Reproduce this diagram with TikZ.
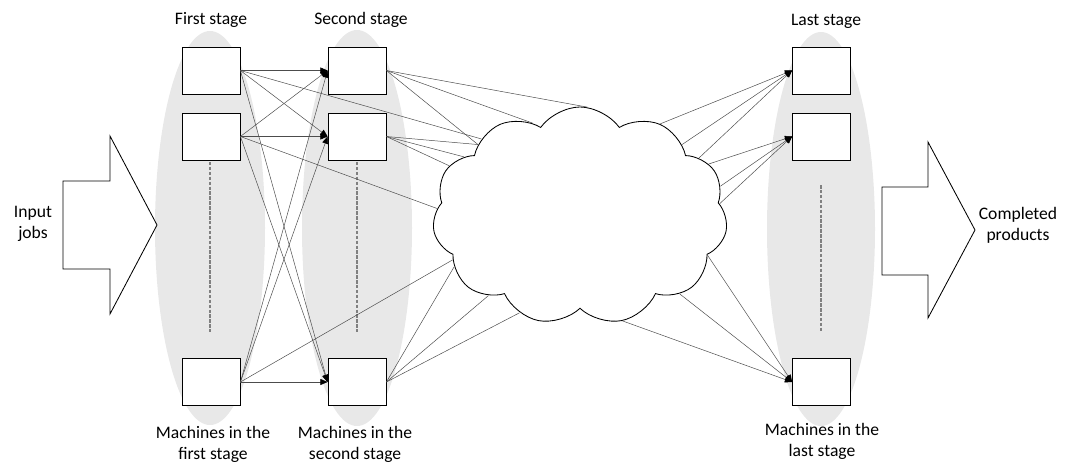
\documentclass[tikz,border=0pt]{standalone}
\usepackage{fontspec}
\setmainfont{Carlito}
\usetikzlibrary{arrows.meta,shapes.symbols}

\begin{document}
\begin{tikzpicture}[
    x=0.25mm, y=-0.25mm,
    stage/.style={fill=gray!18, draw=none},
    machine/.style={rectangle, draw=black, fill=white, line width=0.6pt, minimum width=14.5mm, minimum height=11.75mm, inner sep=0pt},
    link/.style={-, line width=0.35pt, black!70},
    feed/.style={-{Triangle[length=1.8mm, width=1.5mm, black]}, line width=0.35pt, black!70},
    dots/.style={line width=1.2pt, gray, dash pattern=on 2.5pt off 1pt},
    stagetext/.style={font=\fontsize{12.5}{15}\selectfont, align=center},
    bigarrow/.style={draw=black, fill=white, line width=0.6pt}
]
\useasboundingbox (0,0) rectangle (1067,466);

% Stage areas
\fill[stage] (210,228) ellipse [x radius=13.75mm, y radius=49.25mm];
\fill[stage] (357,228) ellipse [x radius=13.75mm, y radius=49.5mm];
\fill[stage] (821,229) ellipse [x radius=13.5mm, y radius=49.25mm];

% Dotted columns
\draw[dots] (210,157) -- (210,332);
\draw[dots] (357,157) -- (357,332);
\draw[dots] (821,185) -- (821,332);

% Machines
\node[machine] (F1) at (211,70.5) {};
\node[machine] (F2) at (211,136.5) {};
\node[machine] (F3) at (211,382) {};
\node[machine] (S1) at (357,70.5) {};
\node[machine] (S2) at (357,136.5) {};
\node[machine] (S3) at (357,382) {};
\node[machine] (L1) at (821.5,70.5) {};
\node[machine] (L2) at (821.5,136.5) {};
\node[machine] (L3) at (821.5,382) {};

% Cloud of the middle stages
\node[cloud, draw=black, fill=white, line width=0.6pt, cloud puffs=11, cloud puff arc=110, aspect=1.35, minimum width=73.75mm, minimum height=54.5mm, inner sep=0pt] (mid) at (580,216) {};

% First stage to second stage
\draw[feed] (F1.east) -- (S1.west);
\draw[feed] (F1.east) -- (S2.west);
\draw[feed] (F1.east) -- (S3.west);
\draw[feed] (F2.east) -- (S1.west);
\draw[feed] (F2.east) -- (S2.west);
\draw[feed] (F2.east) -- (S3.west);
\draw[feed] (F3.east) -- (S1.west);
\draw[feed] (F3.east) -- (S2.west);
\draw[feed] (F3.east) -- (S3.west);

% Into the cloud
\draw[link] (S1.east) -- (mid.86);
\draw[link] (S1.east) -- (mid.117);
\draw[link] (S1.east) -- (mid.145);
\draw[link] (F1.east) -- (mid.142);
\draw[link] (S2.east) -- (mid.145);
\draw[link] (S2.east) -- (mid.153);
\draw[link] (S2.east) -- (mid.159);
\draw[link] (F2.east) -- (mid.177);
\draw[link] (F3.east) -- (mid.199);
\draw[link] (S3.east) -- (mid.202);
\draw[link] (S3.east) -- (mid.221);
\draw[link] (S3.east) -- (mid.238);

% Out of the cloud
\draw[feed] (mid.49) -- (L1.west);
\draw[feed] (mid.35) -- (L1.west);
\draw[feed] (mid.26) -- (L1.west);
\draw[feed] (mid.22) -- (L2.west);
\draw[feed] (mid.12) -- (L2.west);
\draw[feed] (mid.5) -- (L2.west);
\draw[feed] (mid.-17) -- (L3.west);
\draw[feed] (mid.-38) -- (L3.west);
\draw[feed] (mid.-68) -- (L3.west);

% Input and output arrows
\draw[bigarrow] (63,181) -- (110,181) -- (110,136) -- (157,225) -- (110,314) -- (110,269) -- (63,269) -- cycle;
\draw[bigarrow] (882,187) -- (928,187) -- (928,142) -- (975,230) -- (928,318) -- (928,275) -- (882,275) -- cycle;

% Texts
\node[stagetext] (tF) at (211,20) {First stage};
\node[stagetext] (tS) at (361,20) {Second stage};
\node[stagetext] (tL) at (826,21) {Last stage};
\node[stagetext] (bF) at (213,444) {Machines in the\\first stage};
\node[stagetext] (bS) at (355,444) {Machines in the\\second stage};
\node[stagetext] (bL) at (822,441) {Machines in the\\last stage};
\node[stagetext] (in) at (33,224) {Input\\jobs};
\node[stagetext] (out) at (1018,225) {Completed\\products};

\end{tikzpicture}
\end{document}
